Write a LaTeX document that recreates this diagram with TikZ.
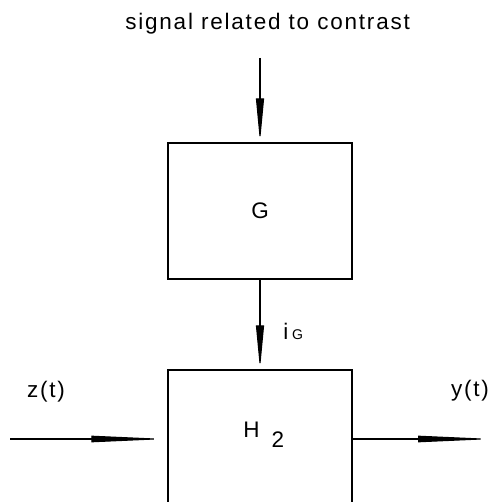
\documentclass[tikz,border=0pt]{standalone}
\usepackage{fontspec}
\setmainfont{Liberation Sans}
\newfontfamily\plotfont[LetterSpace=8]{Liberation Sans}
\usetikzlibrary{arrows.meta,positioning}
\tikzset{
  blockbox/.style={draw, line width=1pt, minimum width=4.6cm, inner sep=0pt},
  plotlbl/.style={font=\plotfont\fontsize{16}{19}\selectfont, inner sep=0pt},
  sigarrow/.style={line width=0.8pt, -{Triangle[length=11mm, width=2mm]}},
  ioarrow/.style={line width=0.8pt, -{Triangle[length=19mm, width=1.6mm]}}
}

\begin{document}
\begin{tikzpicture}
  \useasboundingbox (0,0) rectangle (12.425,12.55);
  \clip (0,0) rectangle (12.425,12.55);

  % Blocks
  \node[blockbox, minimum height=3.4cm, plotlbl] (gbox) at (6.5,7.275) {G};
  \node[blockbox, minimum height=3.45cm] (hbox) at (6.5,1.575) {};
  \node[plotlbl, anchor=base west] (hlbl) at (6.075,1.6) {H\hspace{0.3cm}\raisebox{-0.25cm}{2}};

  % Input from above
  \node[plotlbl] (ctrl) at (6.69,11.95) {signal related to contrast};
  \coordinate (ctrlin) at (6.5,11.1);
  \draw[sigarrow] (ctrlin) -- (gbox.north);

  % G to H2
  \draw[sigarrow] (gbox.south) -- (hbox.north);
  \node[plotlbl, anchor=base west] (ig) at (7.075,4.05) {i\,{\fontsize{10}{12}\selectfont G}};

  % Input and output signals
  \coordinate (zin) at (0.25,1.575);
  \coordinate (yout) at (12.35,1.575);
  \draw[ioarrow] (zin) -- (hbox.west);
  \draw[ioarrow] (hbox.east) -- (yout);
  \node[plotlbl] (zlbl) at (1.15,2.75) {z(t)};
  \node[plotlbl] (ylbl) at (11.75,2.775) {y(t)};
\end{tikzpicture}
\end{document}
